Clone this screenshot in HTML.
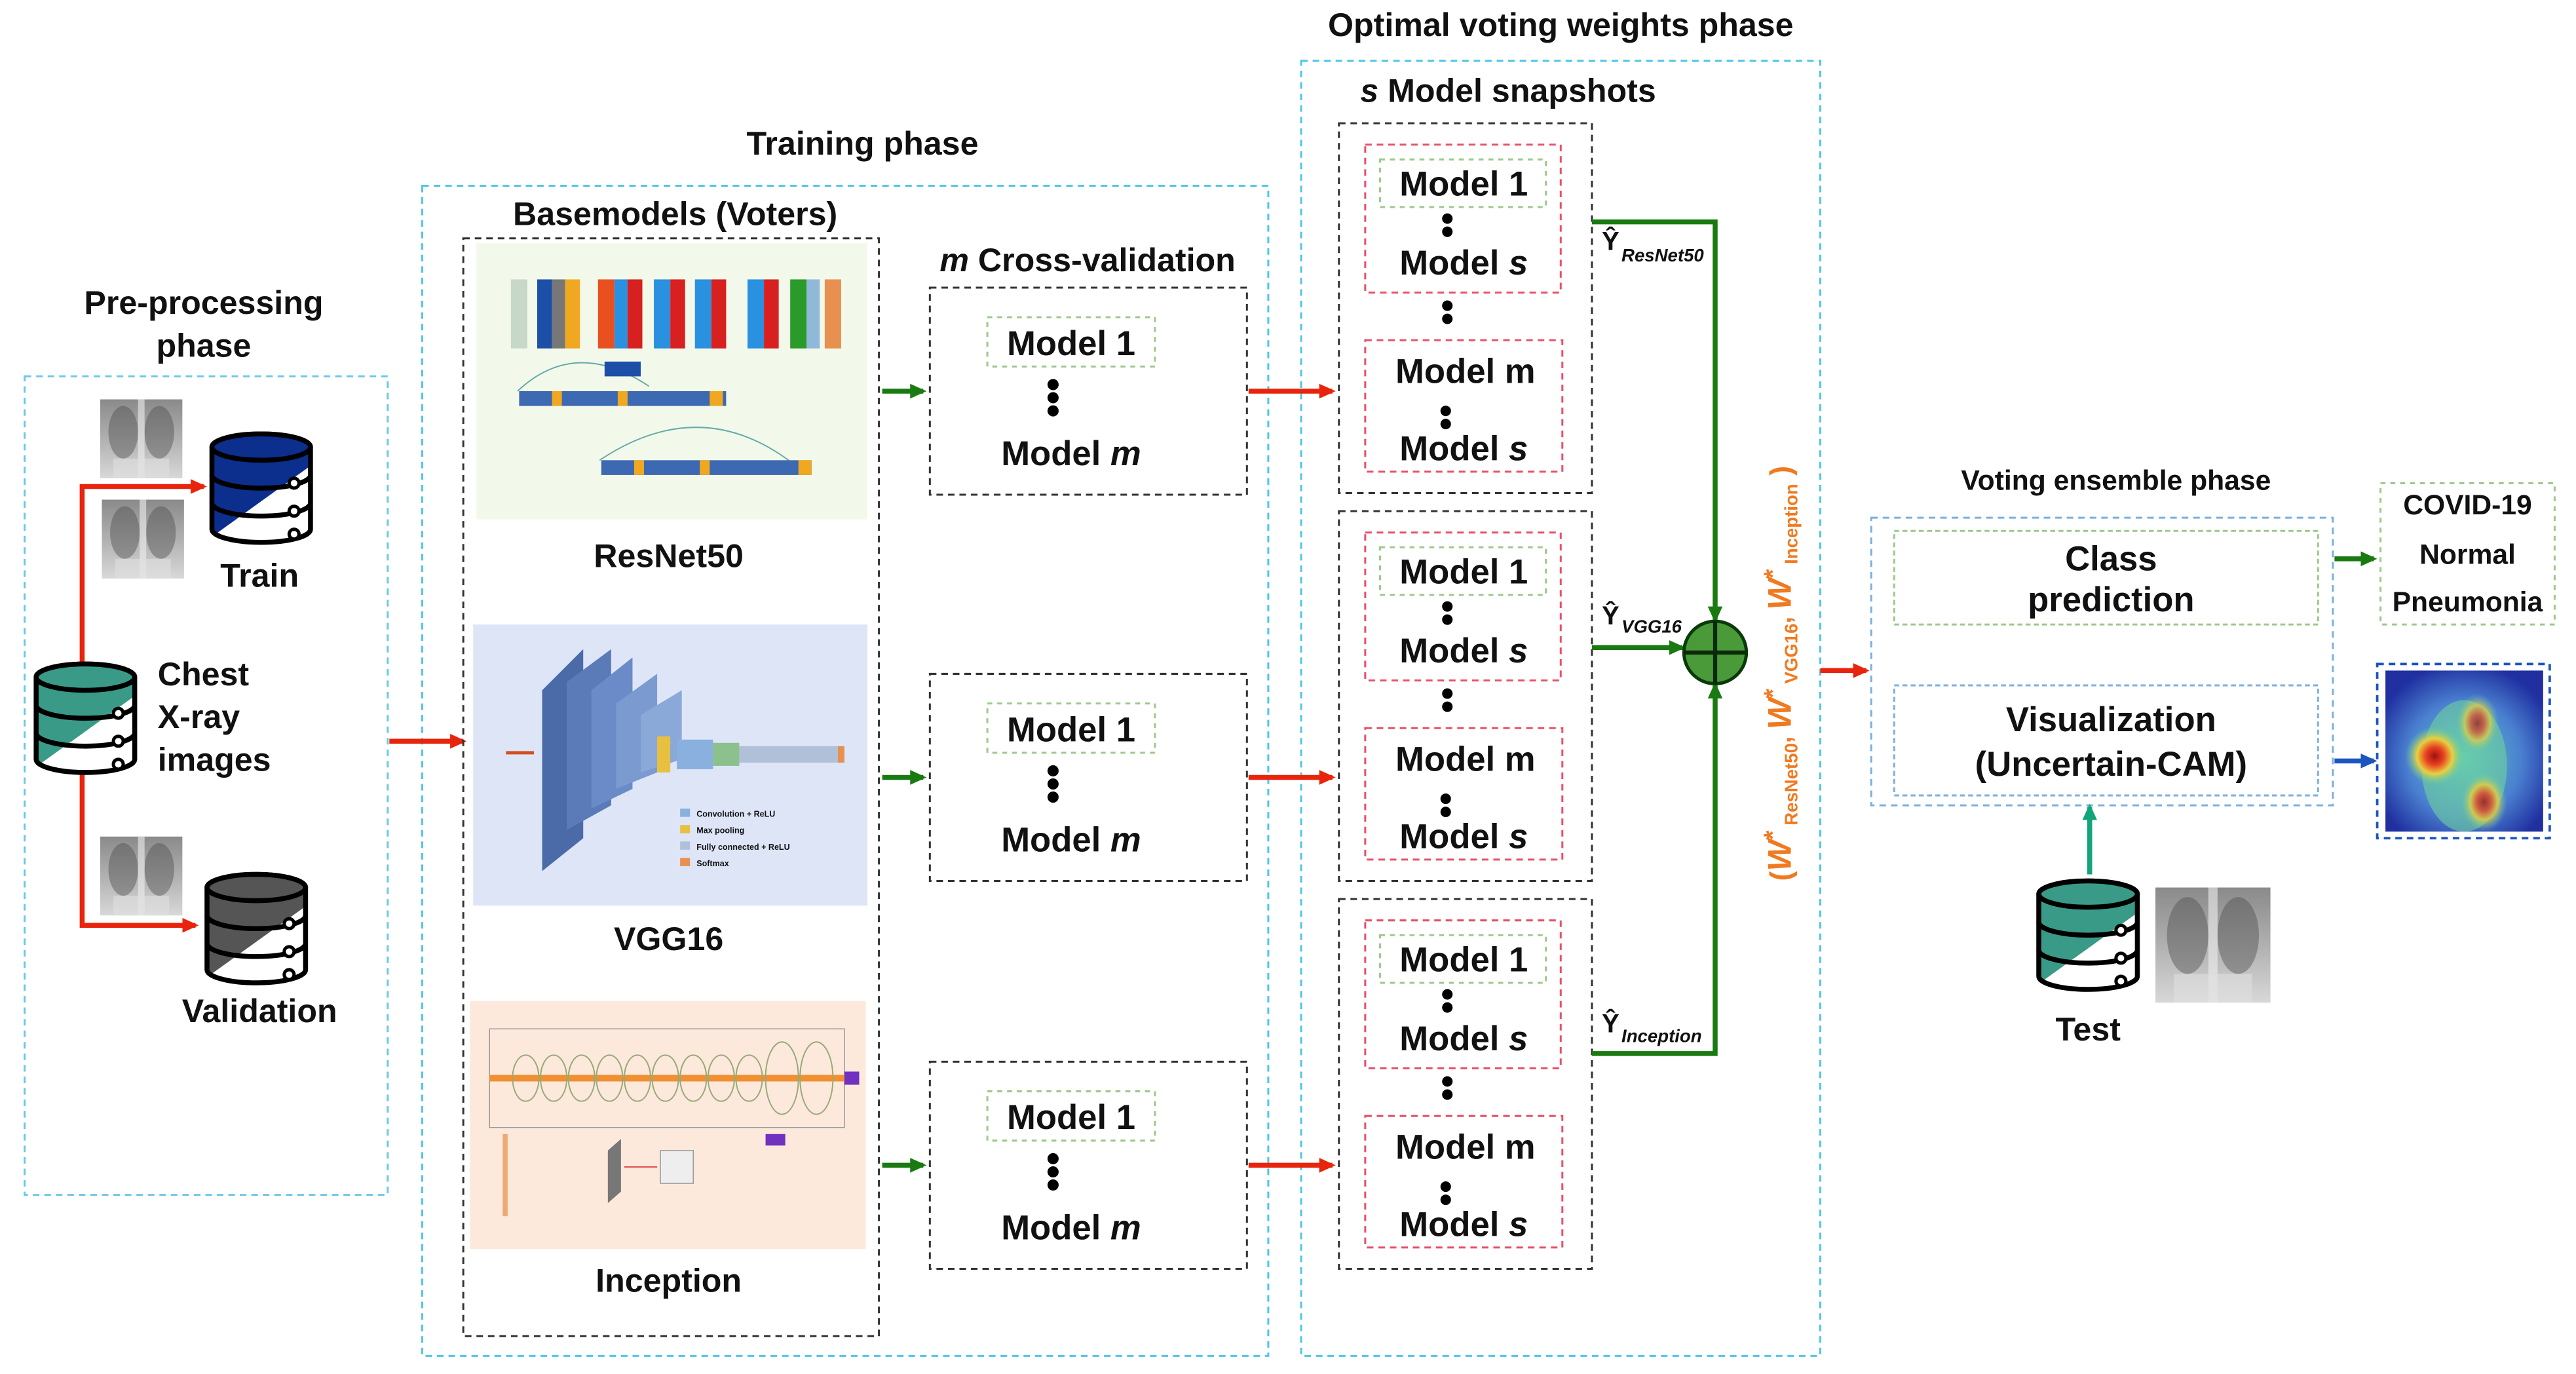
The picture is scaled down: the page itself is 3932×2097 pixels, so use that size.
<!DOCTYPE html>
<html><head><meta charset="utf-8"><style>
html,body{margin:0;padding:0;background:#fff;}
svg{display:block;}
text{font-family:"Liberation Sans",Arial,sans-serif;font-weight:bold;fill:#111;}
</style></head><body>
<svg width="3932" height="2097" viewBox="0 0 1568 836" preserveAspectRatio="none" xmlns="http://www.w3.org/2000/svg">
<defs>
<marker id="ar" markerWidth="10" markerHeight="10" refX="8" refY="5" orient="auto" markerUnits="userSpaceOnUse"><path d="M0,0.5 L10,5 L0,9.5 Z" fill="#e8240c"/></marker>
<marker id="ag" markerWidth="10" markerHeight="10" refX="8" refY="5" orient="auto" markerUnits="userSpaceOnUse"><path d="M0,0.5 L10,5 L0,9.5 Z" fill="#1a7a12"/></marker>
<marker id="ab" markerWidth="10" markerHeight="10" refX="8" refY="5" orient="auto" markerUnits="userSpaceOnUse"><path d="M0,0.5 L10,5 L0,9.5 Z" fill="#1b55c0"/></marker>
<marker id="at" markerWidth="10" markerHeight="10" refX="8" refY="5" orient="auto" markerUnits="userSpaceOnUse"><path d="M0,0.5 L10,5 L0,9.5 Z" fill="#13a57a"/></marker>
<clipPath id="cyl"><path d="M2,10 A30,8 0 0 1 62,10 L62,60 A30,8 0 0 1 2,60 Z"/></clipPath>
<g id="cylinder">
<path d="M2,10 A30,8 0 0 1 62,10 L62,60 A30,8 0 0 1 2,60 Z" fill="#fff"/>
<polygon points="0,0 64,0 64,20 0,66" fill="currentColor" clip-path="url(#cyl)"/>
<path d="M2,10 A30,8 0 0 1 62,10 L62,60 A30,8 0 0 1 2,60 Z" fill="none" stroke="#000" stroke-width="3"/>
<ellipse cx="32" cy="10" rx="30" ry="8" fill="currentColor" stroke="#000" stroke-width="3"/>
<path d="M2,27 A30,8 0 0 0 62,27 M2,44 A30,8 0 0 0 62,44" fill="none" stroke="#000" stroke-width="3"/>
<circle cx="52" cy="32" r="3" fill="#fff" stroke="#000" stroke-width="2"/>
<circle cx="52" cy="49" r="3" fill="#fff" stroke="#000" stroke-width="2"/>
<circle cx="52" cy="63" r="3" fill="#fff" stroke="#000" stroke-width="2"/>
</g>
<linearGradient id="xr" x1="0" y1="0" x2="0" y2="1"><stop offset="0" stop-color="#8a8a8a"/><stop offset="0.5" stop-color="#b0b0b0"/><stop offset="1" stop-color="#d8d8d8"/></linearGradient>
<g id="xray">
<rect x="0" y="0" width="50" height="48" fill="url(#xr)"/>
<ellipse cx="14" cy="20" rx="9" ry="16" fill="#505050" opacity="0.45"/>
<ellipse cx="36" cy="20" rx="9" ry="16" fill="#505050" opacity="0.45"/>
<rect x="23" y="0" width="4" height="48" fill="#eee" opacity="0.6"/>
<rect x="8" y="36" width="34" height="12" fill="#e0e0e0" opacity="0.6"/>
</g>
<g id="snap">
<rect x="815" y="75" width="154" height="225" fill="none" stroke="#333" stroke-width="1.2" stroke-dasharray="4,3"/>
<rect x="831" y="88" width="119" height="90" fill="none" stroke="#e8506a" stroke-width="1.2" stroke-dasharray="4,3"/>
<rect x="840" y="97" width="101" height="29" fill="none" stroke="#9cc98a" stroke-width="1.2" stroke-dasharray="3,3"/>
<text x="891" y="119" font-size="21" text-anchor="middle">Model 1</text>
<circle cx="881" cy="133" r="3.2" fill="#000"/><circle cx="881" cy="141" r="3.2" fill="#000"/>
<text x="891" y="167" font-size="21" text-anchor="middle">Model <tspan font-style="italic">s</tspan></text>
<circle cx="881" cy="186" r="3.2" fill="#000"/><circle cx="881" cy="194" r="3.2" fill="#000"/>
<rect x="831" y="207" width="120" height="80" fill="none" stroke="#e8506a" stroke-width="1.2" stroke-dasharray="4,3"/>
<text x="892" y="233" font-size="21" text-anchor="middle">Model m</text>
<circle cx="880" cy="250" r="3.2" fill="#000"/><circle cx="880" cy="258" r="3.2" fill="#000"/>
<text x="891" y="280" font-size="21" text-anchor="middle">Model <tspan font-style="italic">s</tspan></text>
</g>
<g id="cv">
<rect x="566" y="175" width="193" height="126" fill="none" stroke="#333" stroke-width="1.2" stroke-dasharray="4,3"/>
<rect x="601" y="193" width="102" height="30" fill="none" stroke="#9cc98a" stroke-width="1.2" stroke-dasharray="3,3"/>
<text x="652" y="216" font-size="21" text-anchor="middle">Model 1</text>
<circle cx="641" cy="234" r="3.4" fill="#000"/><circle cx="641" cy="242" r="3.4" fill="#000"/><circle cx="641" cy="250" r="3.4" fill="#000"/>
<text x="652" y="283" font-size="21" text-anchor="middle">Model <tspan font-style="italic">m</tspan></text>
<line x1="537" y1="238" x2="562" y2="238" stroke="#1a7a12" stroke-width="3" marker-end="url(#ag)"/>
<line x1="760" y1="238" x2="811" y2="238" stroke="#e8240c" stroke-width="3" marker-end="url(#ar)"/>
</g>
</defs>

<text x="950" y="22" font-size="20" text-anchor="middle">Optimal voting weights phase</text>
<text x="525" y="94" font-size="20" text-anchor="middle">Training phase</text>
<text x="124" y="191" font-size="20" text-anchor="middle">Pre-processing</text>
<text x="124" y="217" font-size="20" text-anchor="middle">phase</text>

<rect x="15" y="229" width="221" height="498" fill="none" stroke="#6cc8e8" stroke-width="1.2" stroke-dasharray="4,3"/>
<rect x="257" y="113" width="515" height="712" fill="none" stroke="#4fc6e8" stroke-width="1.2" stroke-dasharray="4,3"/>
<rect x="792" y="37" width="316" height="788" fill="none" stroke="#4fc6e8" stroke-width="1.2" stroke-dasharray="4,3"/>

<use href="#xray" x="61" y="243"/>
<use href="#xray" x="62" y="304"/>
<use href="#xray" x="61" y="509"/>
<polyline points="50,404 50,296 124,296" fill="none" stroke="#e8240c" stroke-width="3" marker-end="url(#ar)"/>
<polyline points="50,470 50,563 119,563" fill="none" stroke="#e8240c" stroke-width="3" marker-end="url(#ar)"/>
<use href="#cylinder" x="20" y="402" style="color:#3a9a88"/>
<use href="#cylinder" x="127" y="262" style="color:#0c2e8c"/>
<use href="#cylinder" x="124" y="530" style="color:#555"/>
<text x="96" y="417" font-size="20">Chest</text>
<text x="96" y="443" font-size="20">X-ray</text>
<text x="96" y="469" font-size="20">images</text>
<text x="158" y="357" font-size="20" text-anchor="middle">Train</text>
<text x="158" y="622" font-size="20" text-anchor="middle">Validation</text>
<line x1="237" y1="451" x2="282" y2="451" stroke="#e8240c" stroke-width="3" marker-end="url(#ar)"/>

<text x="411" y="137" font-size="20" text-anchor="middle">Basemodels (Voters)</text>
<rect x="282" y="145" width="253" height="668" fill="none" stroke="#333" stroke-width="1.2" stroke-dasharray="4,3"/>
<rect x="290" y="148" width="238" height="168" fill="#f3f9ea"/>
<g>
<rect x="311" y="170" width="10" height="42" fill="#c8d8c8"/>
<rect x="327" y="170" width="9" height="42" fill="#1c4fa8"/><rect x="336" y="170" width="8" height="42" fill="#777"/><rect x="344" y="170" width="9" height="42" fill="#f0a820"/>
<rect x="364" y="170" width="10" height="42" fill="#e85020"/><rect x="374" y="170" width="8" height="42" fill="#2a90e0"/><rect x="382" y="170" width="9" height="42" fill="#d82020"/>
<rect x="398" y="170" width="10" height="42" fill="#2a90e0"/><rect x="408" y="170" width="9" height="42" fill="#d82020"/>
<rect x="423" y="170" width="10" height="42" fill="#2a90e0"/><rect x="433" y="170" width="9" height="42" fill="#d82020"/>
<rect x="455" y="170" width="10" height="42" fill="#2a90e0"/><rect x="465" y="170" width="9" height="42" fill="#d82020"/>
<rect x="481" y="170" width="10" height="42" fill="#2a9a2a"/><rect x="491" y="170" width="8" height="42" fill="#90b8d8"/><rect x="502" y="170" width="10" height="42" fill="#e89050"/>
<path d="M315,238 Q350,205 395,235" fill="none" stroke="#6aa" stroke-width="0.8"/>
<rect x="368" y="220" width="22" height="9" fill="#1c4fa8"/>
<rect x="316" y="238" width="126" height="9" fill="#1c4fa8" opacity="0.85"/>
<rect x="336" y="238" width="6" height="9" fill="#f0a820"/><rect x="376" y="238" width="6" height="9" fill="#f0a820"/><rect x="432" y="238" width="8" height="9" fill="#f0a820"/>
<path d="M365,280 Q425,240 480,280" fill="none" stroke="#6aa" stroke-width="0.8"/>
<rect x="366" y="280" width="128" height="9" fill="#1c4fa8" opacity="0.85"/>
<rect x="386" y="280" width="6" height="9" fill="#f0a820"/><rect x="426" y="280" width="6" height="9" fill="#f0a820"/><rect x="486" y="280" width="8" height="9" fill="#f0a820"/>
</g>
<text x="407" y="345" font-size="20" text-anchor="middle">ResNet50</text>

<rect x="288" y="380" width="240" height="171" fill="#dde5f7"/>
<g>
<polygon points="330,420 355,395 355,510 330,530" fill="#4a6aa8"/>
<polygon points="345,415 372,395 372,490 345,505" fill="#5a7ab8"/>
<polygon points="360,420 385,400 385,480 360,492" fill="#6a8ac8"/>
<polygon points="375,428 400,410 400,470 375,480" fill="#7a9ad0"/>
<polygon points="390,435 415,420 415,462 390,470" fill="#8aa8d8"/>
<rect x="400" y="448" width="8" height="22" fill="#e8c040"/>
<rect x="412" y="450" width="22" height="18" fill="#8ab0e0"/>
<rect x="434" y="452" width="16" height="14" fill="#8cc08c"/>
<rect x="450" y="454" width="60" height="10" fill="#b0c0d8"/>
<rect x="510" y="454" width="4" height="10" fill="#e89050"/>
<line x1="308" y1="458" x2="325" y2="458" stroke="#d05020" stroke-width="2"/>
<rect x="414" y="492" width="6" height="5" fill="#8ab0e0"/><rect x="414" y="502" width="6" height="5" fill="#e8c040"/><rect x="414" y="512" width="6" height="5" fill="#b0c0d8"/><rect x="414" y="522" width="6" height="5" fill="#e89050"/>
<text x="424" y="497" font-size="5" font-weight="normal">Convolution + ReLU</text>
<text x="424" y="507" font-size="5" font-weight="normal">Max pooling</text>
<text x="424" y="517" font-size="5" font-weight="normal">Fully connected + ReLU</text>
<text x="424" y="527" font-size="5" font-weight="normal">Softmax</text>
</g>
<text x="407" y="578" font-size="20" text-anchor="middle">VGG16</text>

<rect x="286" y="609" width="241" height="151" fill="#fde9dc"/>
<g>
<rect x="298" y="626" width="216" height="60" fill="none" stroke="#999" stroke-width="0.6"/>
<line x1="298" y1="656" x2="520" y2="656" stroke="#f09030" stroke-width="4"/>
<g fill="none" stroke="#9a7" stroke-width="0.8">
<ellipse cx="320" cy="656" rx="8" ry="14"/><ellipse cx="337" cy="656" rx="8" ry="14"/><ellipse cx="354" cy="656" rx="8" ry="14"/><ellipse cx="371" cy="656" rx="8" ry="14"/><ellipse cx="388" cy="656" rx="8" ry="14"/><ellipse cx="405" cy="656" rx="8" ry="14"/><ellipse cx="422" cy="656" rx="8" ry="14"/><ellipse cx="439" cy="656" rx="8" ry="14"/><ellipse cx="456" cy="656" rx="8" ry="14"/><ellipse cx="476" cy="656" rx="10" ry="22"/><ellipse cx="497" cy="656" rx="10" ry="22"/>
</g>
<rect x="514" y="652" width="9" height="8" fill="#7030c0"/>
<rect x="466" y="690" width="12" height="7" fill="#7030c0"/>
<polygon points="370,700 378,693 378,725 370,732" fill="#777"/>
<rect x="402" y="700" width="20" height="20" fill="#eee" stroke="#999" stroke-width="0.6"/>
<line x1="380" y1="710" x2="400" y2="710" stroke="#e05050" stroke-width="0.8"/>
<rect x="306" y="690" width="3" height="50" fill="#e08030" opacity="0.6"/>
</g>
<text x="407" y="786" font-size="20" text-anchor="middle">Inception</text>

<text x="662" y="165" font-size="20" text-anchor="middle"><tspan font-style="italic">m</tspan> Cross-validation</text>
<use href="#cv"/>
<use href="#cv" y="235"/>
<use href="#cv" y="471"/>

<text x="918" y="62" font-size="20" text-anchor="middle"><tspan font-style="italic">s</tspan> Model snapshots</text>
<use href="#snap"/>
<use href="#snap" y="236"/>
<use href="#snap" y="472"/>

<polyline points="969,135 1044,135 1044,377" fill="none" stroke="#1a7a12" stroke-width="3" marker-end="url(#ag)"/>
<line x1="969" y1="394" x2="1024" y2="394" stroke="#1a7a12" stroke-width="3" marker-end="url(#ag)"/>
<polyline points="969,641 1044,641 1044,417" fill="none" stroke="#1a7a12" stroke-width="3" marker-end="url(#ag)"/>
<circle cx="1044" cy="397" r="19" fill="#4a9a3a" stroke="#0a3a0a" stroke-width="2"/>
<line x1="1025" y1="397" x2="1063" y2="397" stroke="#0a2a0a" stroke-width="2.5"/>
<line x1="1044" y1="378" x2="1044" y2="416" stroke="#0a2a0a" stroke-width="2.5"/>
<text x="975" y="152" font-size="16" font-weight="normal">Ŷ</text><text x="987" y="159" font-size="11" font-style="italic" font-weight="normal">ResNet50</text>
<text x="975" y="380" font-size="16" font-weight="normal">Ŷ</text><text x="987" y="385" font-size="11" font-style="italic" font-weight="normal">VGG16</text>
<text x="975" y="628" font-size="16" font-weight="normal">Ŷ</text><text x="987" y="634" font-size="11" font-style="italic" font-weight="normal">Inception</text>
<text transform="translate(1090,536) rotate(-90)" font-size="15" font-weight="normal" style="fill:#f07a20"><tspan font-size="18">(</tspan><tspan font-style="italic" font-size="20">W</tspan><tspan dy="-6">*</tspan><tspan dy="10" font-size="11"> ResNet50</tspan><tspan dy="-4">, </tspan><tspan font-style="italic" font-size="20">W</tspan><tspan dy="-6">*</tspan><tspan dy="10" font-size="11"> VGG16</tspan><tspan dy="-4">, </tspan><tspan font-style="italic" font-size="20">W</tspan><tspan dy="-6">*</tspan><tspan dy="10" font-size="11"> Inception</tspan><tspan dy="-4" font-size="18"> )</tspan></text>
<line x1="1108" y1="408" x2="1136" y2="408" stroke="#e8240c" stroke-width="3" marker-end="url(#ar)"/>

<text x="1288" y="298" font-size="17" text-anchor="middle">Voting ensemble phase</text>
<rect x="1139" y="315" width="281" height="175" fill="none" stroke="#7ab0e0" stroke-width="1.2" stroke-dasharray="4,3"/>
<rect x="1153" y="323" width="258" height="57" fill="none" stroke="#9cc98a" stroke-width="1.2" stroke-dasharray="3,2"/>
<text x="1285" y="347" font-size="21" text-anchor="middle">Class</text>
<text x="1285" y="372" font-size="21" text-anchor="middle">prediction</text>
<rect x="1153" y="417" width="258" height="67" fill="none" stroke="#7ab0e0" stroke-width="1.2" stroke-dasharray="3,2"/>
<text x="1285" y="445" font-size="21" text-anchor="middle">Visualization</text>
<text x="1285" y="472" font-size="21" text-anchor="middle">(Uncertain-CAM)</text>
<line x1="1421" y1="340" x2="1445" y2="340" stroke="#1a7a12" stroke-width="3" marker-end="url(#ag)"/>
<rect x="1449" y="294" width="106" height="86" fill="none" stroke="#9cc98a" stroke-width="1.2" stroke-dasharray="3,3"/>
<text x="1502" y="313" font-size="17" text-anchor="middle">COVID-19</text>
<text x="1502" y="343" font-size="17" text-anchor="middle">Normal</text>
<text x="1502" y="372" font-size="17" text-anchor="middle">Pneumonia</text>
<line x1="1421" y1="463" x2="1445" y2="463" stroke="#1b55c0" stroke-width="3" marker-end="url(#ab)"/>
<rect x="1447" y="404" width="105" height="106" fill="none" stroke="#1b55c0" stroke-width="1.5" stroke-dasharray="4,3"/>
<defs>
<radialGradient id="h1"><stop offset="0" stop-color="#a01010"/><stop offset="0.3" stop-color="#e84020"/><stop offset="0.6" stop-color="#e8d040"/><stop offset="1" stop-color="#60d0a0" stop-opacity="0"/></radialGradient>
<radialGradient id="hbg" cx="0.5" cy="0.55" r="0.6"><stop offset="0" stop-color="#5ac8c0"/><stop offset="0.6" stop-color="#4a80d0"/><stop offset="1" stop-color="#2030a0"/></radialGradient>
</defs>
<rect x="1452" y="408" width="96" height="98" fill="url(#hbg)"/>
<ellipse cx="1500" cy="466" rx="26" ry="40" fill="#70d0a0" opacity="0.6"/>
<ellipse cx="1482" cy="460" rx="18" ry="18" fill="url(#h1)"/>
<ellipse cx="1508" cy="440" rx="13" ry="18" fill="url(#h1)" opacity="0.7"/>
<ellipse cx="1512" cy="488" rx="14" ry="18" fill="url(#h1)" opacity="0.8"/>

<line x1="1272" y1="532" x2="1272" y2="491" stroke="#13a57a" stroke-width="3" marker-end="url(#at)"/>
<use href="#cylinder" x="1239" y="534" style="color:#3a9a88"/>
<g transform="translate(1312,540) scale(1.4,1.46)"><use href="#xray"/></g>
<text x="1271" y="633" font-size="20" text-anchor="middle">Test</text>
</svg>
</body></html>
